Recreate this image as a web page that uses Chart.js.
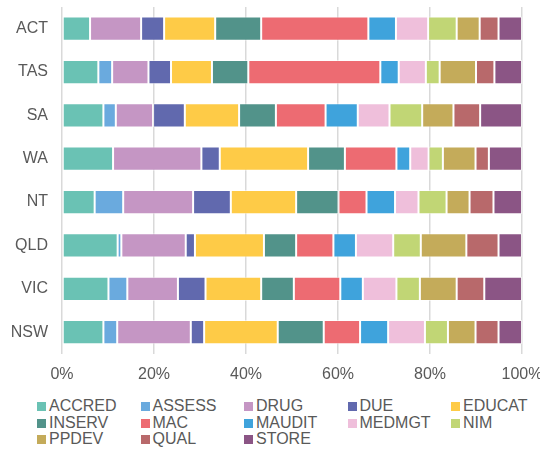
<!DOCTYPE html>
<html>
<head>
<meta charset="utf-8">
<script src="https://cdn.jsdelivr.net/npm/chart.js@4"></script>
<style>
  html, body { margin: 0; padding: 0; background: #fff; }
  body { width: 540px; height: 449px; overflow: hidden; position: relative; font-family: Arial, "Liberation Sans", sans-serif; }
  #wrap { position: absolute; left: 0; top: 0; width: 540px; height: 395px; }
  #legend { position: absolute; left: 37px; top: 398px; width: 503px; overflow: hidden; white-space: nowrap;
            display: grid; grid-template-columns: repeat(5, 103.5px); grid-auto-rows: 16.7px;
            font-size: 16px; color: #595959; line-height: 16.7px; }
  #legend span.box { display: inline-block; width: 9px; height: 9px; margin-right: 3px; vertical-align: 0px; }
</style>
</head>
<body>
<div id="wrap"><canvas id="chart"></canvas></div>
<div id="legend"></div>
<script>
const states = ['ACT', 'TAS', 'SA', 'WA', 'NT', 'QLD', 'VIC', 'NSW'];
const ticks = ['0%', '20%', '40%', '60%', '80%', '100%'];

// share of each activity per state (%)
const ACCRED = [6.1, 7.9, 9.0, 11.1, 7.1, 12.1, 10.1, 9.0];
const ASSESS = [0, 3.0, 2.7, 0, 6.2, 0.8, 4.1, 3.0];
const DRUG = [11.1, 7.9, 8.1, 19.2, 15.2, 14.0, 11.0, 16.0];
const DUE = [5.0, 4.9, 6.9, 4.0, 8.2, 2.0, 6.0, 2.9];
const EDUCAT = [11.1, 8.9, 11.8, 19.2, 14.2, 15.0, 12.1, 16.0];
const INSERV = [10.0, 7.9, 8.0, 8.0, 9.2, 7.0, 7.1, 10.0];
const MAC = [23.3, 28.7, 10.8, 11.2, 6.1, 8.1, 10.1, 7.9];
const MAUDIT = [6.0, 4.0, 7.0, 3.0, 6.2, 4.9, 4.9, 6.1];
const MEDMGT = [7.0, 5.9, 6.9, 4.0, 5.1, 8.1, 7.3, 8.0];
const NIM = [6.2, 3.0, 7.1, 3.1, 6.1, 6.0, 5.1, 5.0];
const PPDEV = [5.0, 7.9, 6.8, 7.1, 5.0, 9.9, 8.0, 6.0];
const QUAL = [4.1, 4.0, 5.8, 2.9, 5.2, 7.0, 6.0, 5.0];
const STORE = [5.1, 6.0, 9.1, 7.2, 6.2, 5.1, 8.2, 5.1];

const series = [
    ['ACCRED', ACCRED, '#6ac2b4'],
    ['ASSESS', ASSESS, '#6aaade'],
    ['DRUG', DRUG, '#c596c4'],
    ['DUE', DUE, '#6169ae'],
    ['EDUCAT', EDUCAT, '#fecb47'],
    ['INSERV', INSERV, '#52938a'],
    ['MAC', MAC, '#ed6b72'],
    ['MAUDIT', MAUDIT, '#3fa3dc'],
    ['MEDMGT', MEDMGT, '#efbfdb'],
    ['NIM', NIM, '#c1d675'],
    ['PPDEV', PPDEV, '#c4ab5a'],
    ['QUAL', QUAL, '#b8696b'],
    ['STORE', STORE, '#8b5585']
];

const textColor = '#595959',
    gridColor = '#d9d9d9',
    font = {family: 'Arial, "Liberation Sans", sans-serif', size: 16};

const datasets = series.map(([label, data, color]) => ({
    label,
    data,
    backgroundColor: color,
    borderColor: 'rgba(255,255,255,0.55)',
    borderWidth: 1,
    borderSkipped: false,
    barPercentage: 0.56,
    categoryPercentage: 1
}));

new Chart(document.getElementById('chart'), {
    type: 'bar',
    data: {labels: states, datasets},
    options: {
        indexAxis: 'y',
        responsive: true,
        maintainAspectRatio: false,
        animation: false,
        layout: {padding: {top: 7, right: 0, bottom: 0, left: 0}},
        plugins: {legend: {display: false}, tooltip: {enabled: false}},
        scales: {
            x: {
                stacked: true,
                min: 0,
                max: 100,
                grid: {color: gridColor, lineWidth: 1.5, drawTicks: false},
                border: {display: false},
                ticks: {
                    stepSize: 20,
                    color: textColor,
                    font,
                    padding: 11,
                    callback: (v, i) => ticks[i]
                },
                afterFit: scale => {
                    scale.paddingLeft = 0;
                    scale.paddingRight = 18;
                }
            },
            y: {
                stacked: true,
                grid: {display: false, drawTicks: false},
                border: {display: false},
                ticks: {color: textColor, font, padding: 14},
                afterFit: scale => {
                    scale.width = 62;
                    scale.paddingTop = 0;
                    scale.paddingBottom = 0;
                }
            }
        }
    }
});

const legend = document.getElementById('legend');
for (let [label, , color] of series) {
    const item = document.createElement('div');
    item.innerHTML = `<span class="box" style="background:${color}"></span>${label}`;
    legend.appendChild(item);
}
</script>
</body>
</html>
